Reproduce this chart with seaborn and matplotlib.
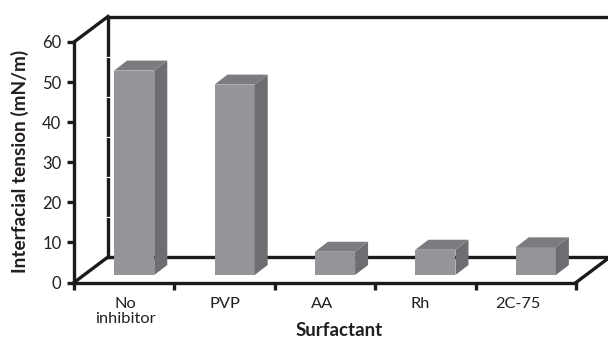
import matplotlib
matplotlib.use("Agg")
import matplotlib.pyplot as plt
from matplotlib.patches import Polygon
import seaborn as sns
import pandas as pd

surfactants = ["No\ninhibitor", "PVP", "AA", "Rh", "2C-75"]
tension = [51.0, 47.5, 5.8, 6.3, 6.9]
y_ticks = [0, 10, 20, 30, 40, 50, 60]

W, H = 608, 338
LEFT, RIGHT, TOP, BOTTOM = 74, 576, 42, 282.5
SHIFT_X, SHIFT_Y = 10, 7.5      # bars stand slightly in from the front edge of the floor
BACK_X, BACK_Y = 34, 25.5       # depth of the box
BAR_DX, BAR_DY = 13, 10         # depth of each bar
LABEL_NUDGE = [1, 0, -3, -5, -8]  # category labels sit a little tighter than the ticks

FRONT, SIDE, CAP = "#939598", "#6d6e71", "#7b7c7f"
INK = "#1c1a1b"
TEXT = "#231f20"
LW = 2.4

sns.set_theme(style="white")
plt.rcParams["font.family"] = ["Lato", "DejaVu Sans"]


def rect(l, r, t, b):
    return [l / W, 1 - b / H, (r - l) / W, (b - t) / H]


fig = plt.figure(figsize=(W / 100, H / 100), dpi=100, facecolor="white")
ax = fig.add_axes(rect(LEFT, RIGHT, TOP, BOTTOM), zorder=1)
ax.set_xlim(-0.5, 4.5)
ax.set_ylim(0, 60)
ax.patch.set_alpha(0)

x_unit = (RIGHT - LEFT) / 5
y_unit = (BOTTOM - TOP) / 60


def to_data(px_x, px_y):
    return px_x / x_unit - 0.5, px_y / y_unit


# Box outline: back wall, floor and connecting edges, in pixel offsets from the front corner
AX_H = BOTTOM - TOP
edges = [
    [(0, AX_H), (BACK_X, AX_H + BACK_Y)],
    [(0, 0), (BACK_X, BACK_Y)],
    [(BACK_X, BACK_Y), (BACK_X, AX_H + BACK_Y)],
    [(BACK_X, AX_H + BACK_Y), (W - LEFT + 2, AX_H + BACK_Y)],
    [(BACK_X, BACK_Y), (W - LEFT + 2, BACK_Y)],
    [(RIGHT - LEFT, 0), (RIGHT - LEFT + BACK_X, BACK_Y)],
]
for (x0, y0), (x1, y1) in edges:
    (a, b), (c, d) = to_data(x0, y0), to_data(x1, y1)
    ax.plot([a, c], [b, d], color=INK, lw=LW, clip_on=False, solid_capstyle="projecting", zorder=1)

# Small gaps in the back wall where the tick levels meet it
for v in y_ticks[1:-1]:
    a, _ = to_data(BACK_X - 1.5, 0)
    c, _ = to_data(BACK_X + 1.5, 0)
    ax.plot([a, c], [v + BACK_Y / y_unit] * 2, color="white", lw=0.9, clip_on=False, zorder=1.5)

# Bars live on a copy of the same scales, nudged onto the floor
bar_ax = fig.add_axes(rect(LEFT + SHIFT_X, RIGHT + SHIFT_X, TOP - SHIFT_Y, BOTTOM - SHIFT_Y), zorder=2)
df = pd.DataFrame({"surfactant": surfactants, "tension": tension})
sns.barplot(data=df, x="surfactant", y="tension", color=FRONT, saturation=1, width=0.4, ax=bar_ax)
bar_ax.set_xlim(-0.5, 4.5)
bar_ax.set_ylim(0, 60)
bar_ax.axis("off")
ddx, ddy = BAR_DX / x_unit, BAR_DY / y_unit
for bar in list(bar_ax.patches):
    bar.set_edgecolor("none")
    x0, x1, h = bar.get_x(), bar.get_x() + bar.get_width(), bar.get_height()
    bar_ax.add_patch(Polygon([(x1, 0), (x1 + ddx, ddy), (x1 + ddx, h + ddy), (x1, h)],
                             closed=True, fc=SIDE, ec="none", clip_on=False))
    bar_ax.add_patch(Polygon([(x0, h), (x0 + ddx, h + ddy), (x1 + ddx, h + ddy), (x1, h)],
                             closed=True, fc=CAP, ec="none", clip_on=False))

# Front axes
for side in ("top", "right"):
    ax.spines[side].set_visible(False)
for side in ("left", "bottom"):
    ax.spines[side].set_color(INK)
    ax.spines[side].set_linewidth(LW)

ax.set_yticks(y_ticks)
ax.set_xticks([i - 0.5 for i in range(6)])
ax.set_xticklabels([])
ax.tick_params(axis="y", left=True, length=5, width=LW, color=INK, pad=4,
               labelsize=12, labelcolor=TEXT)
ax.tick_params(axis="x", bottom=True, length=5, width=LW, color=INK)

for i, name in enumerate(surfactants):
    ax.annotate(name, xy=(i, 0), xycoords=("data", "axes fraction"), xytext=(LABEL_NUDGE[i], -15),
                textcoords="offset pixels", ha="center", va="top", fontsize=11.8,
                color=TEXT, linespacing=1.05)

fig.text(339 / W, 1 - 331 / H, "Surfactant", ha="center", va="center",
         fontsize=13.5, fontweight="bold", color=TEXT)
fig.text(20 / W, 1 - 161.5 / H, "Interfacial tension (mN/m)", ha="center", va="center",
         rotation=90, fontsize=13.7, fontweight="bold", color=TEXT)

fig.savefig("out.png", dpi=100)
